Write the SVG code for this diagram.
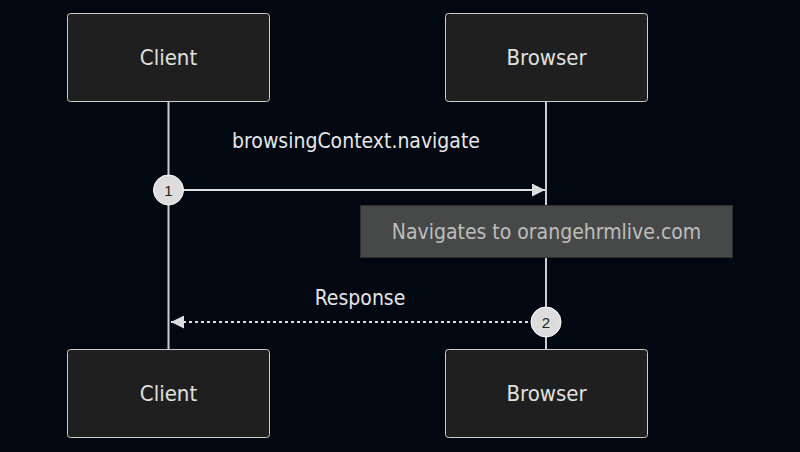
<svg xmlns="http://www.w3.org/2000/svg" width="800" height="452" viewBox="0 0 800 452">
<defs>
<style>
.actor{fill:#1f1f1f;stroke:#cccccc;stroke-width:1}
.atext{fill:#e0e0e0;font-family:"DejaVu Sans Condensed","DejaVu Sans",sans-serif;font-size:22px;text-anchor:middle;dominant-baseline:central}
.life{stroke:#cccccc;stroke-width:2}
.msg{stroke:#dddddd;stroke-width:2;fill:none}
.mtext{fill:#e6e6e6;font-family:"DejaVu Sans Condensed","DejaVu Sans",sans-serif;font-size:21px;text-anchor:middle;dominant-baseline:central}
.seq{fill:#dddddd;stroke:#ffffff;stroke-width:1}
.seqt{fill:#222222;font-family:"Liberation Sans",Arial,sans-serif;font-size:15px;text-anchor:middle;dominant-baseline:central}
</style>
<marker id="arr" viewBox="0 0 12 12" refX="12" refY="6" markerWidth="13" markerHeight="13" markerUnits="userSpaceOnUse" orient="auto">
<path d="M0,0 L12,6 L0,12 z" fill="#dddddd"/>
</marker>
</defs>
<rect width="800" height="452" fill="#020812"/>
<g id="lifelines">
<line class="life" x1="168.5" y1="101" x2="168.5" y2="349"/>
<line class="life" x1="546" y1="101" x2="546" y2="349"/>
</g>
<g id="client-top"><rect class="actor" x="67.5" y="13.5" width="202" height="88" rx="3"/><text class="atext" x="168.5" y="57.5">Client</text></g>
<g id="browser-top"><rect class="actor" x="445.5" y="13.5" width="202" height="88" rx="3"/><text class="atext" x="546.5" y="57.5">Browser</text></g>
<g id="client-bottom"><rect class="actor" x="67.5" y="349.5" width="202" height="88" rx="3"/><text class="atext" x="168.5" y="393.5">Client</text></g>
<g id="browser-bottom"><rect class="actor" x="445.5" y="349.5" width="202" height="88" rx="3"/><text class="atext" x="546.5" y="393.5">Browser</text></g>
<g id="connectors">
<line class="msg" x1="168.5" y1="190" x2="545" y2="190" marker-end="url(#arr)"/>
<text class="mtext" x="356" y="141">browsingContext.navigate</text>
<line class="msg" x1="546" y1="322" x2="171" y2="322" stroke-dasharray="3,3" marker-end="url(#arr)"/>
<text class="mtext" x="360" y="298">Response</text>
</g>
<g id="note"><rect x="360.5" y="205.5" width="372" height="52" fill="#474949" stroke="#2f2f2f" stroke-width="1"/><text class="mtext" x="546.5" y="231.5" style="fill:#bdbdbd">Navigates to orangehrmlive.com</text></g>
<g id="seq1"><circle class="seq" cx="168.5" cy="190" r="15"/><text class="seqt" x="168.5" y="190">1</text></g>
<g id="seq2"><circle class="seq" cx="546" cy="322" r="15"/><text class="seqt" x="546" y="322">2</text></g>
</svg>
